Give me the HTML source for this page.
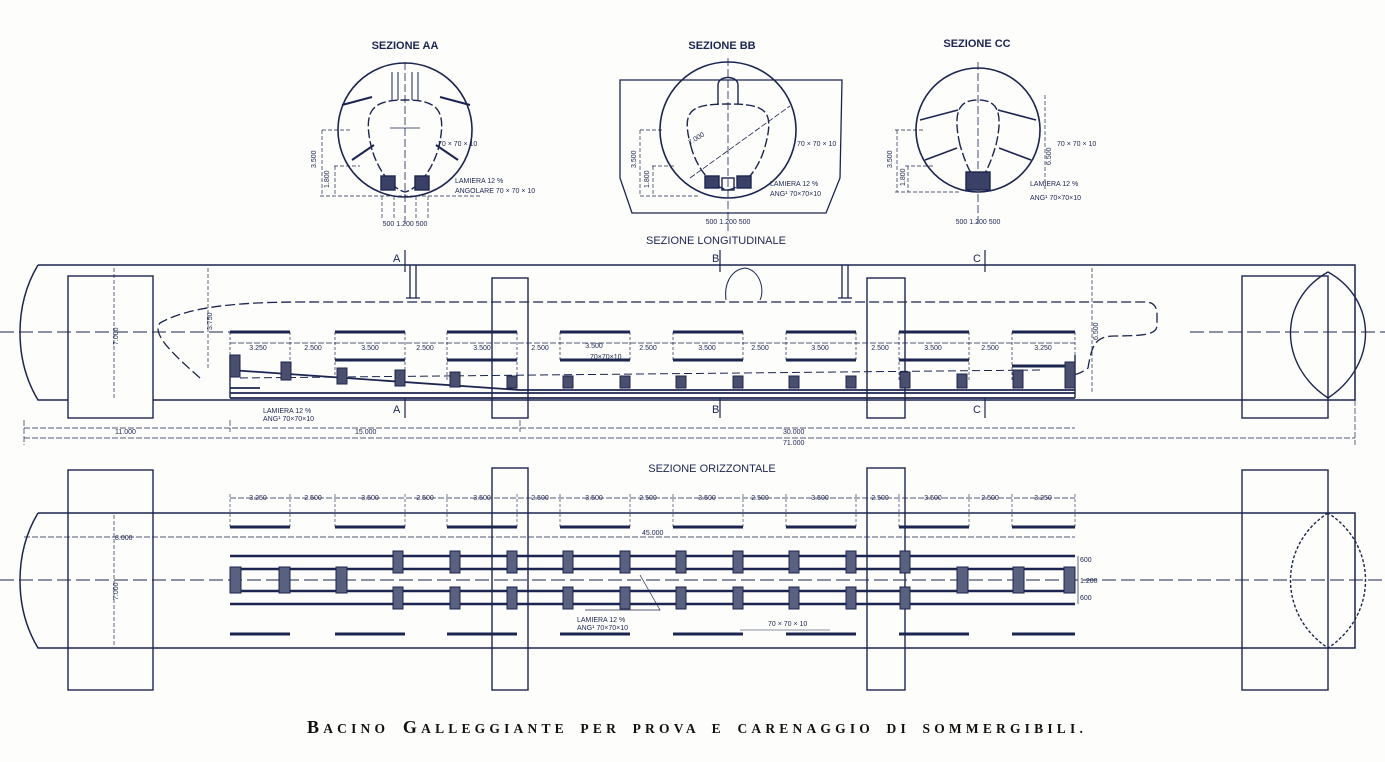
<!DOCTYPE html>
<html><head><meta charset="utf-8"><style>
html,body{margin:0;padding:0;background:#fdfdfb;}
svg{display:block}
text{font-family:"Liberation Sans",sans-serif;fill:#1c2550;font-weight:bold}
.s{font-size:7px;font-weight:normal}
</style></head><body>
<svg width="1385" height="762" viewBox="0 0 1385 762" xmlns="http://www.w3.org/2000/svg">
<g stroke="#1c2550" fill="none" stroke-width="1.4">
<text x="405" y="49" font-size="11" text-anchor="middle" stroke="none">SEZIONE  AA</text>
<text x="722" y="49" font-size="11" text-anchor="middle" stroke="none">SEZIONE  BB</text>
<text x="977" y="47" font-size="11" text-anchor="middle" stroke="none">SEZIONE  CC</text>
<circle cx="405" cy="130" r="67" stroke-width="1.6"/>
<path d="M372 150 C 362 110 372 100 405 100 C 438 100 448 110 438 150 C 430 175 415 190 405 192 C 395 190 380 175 372 150Z" stroke-dasharray="9 3"/>
<path d="M392 72 v28 M398 72 v28 M412 72 v28 M418 72 v28" stroke-width="1"/>
<path d="M342 105 l30 -8 M440 97 l30 8 M352 160 l22 -15 M436 145 l22 15" stroke-width="2"/>
<line x1="405" y1="62" x2="405" y2="225" stroke-dasharray="8 3" stroke-width="0.8"/>
<line x1="390" y1="128" x2="420" y2="128" stroke-width="0.8"/>
<rect x="381" y="176" width="14" height="14" fill="#3b4166"/><rect x="415" y="176" width="14" height="14" fill="#3b4166"/>
<path d="M320 196 H 480 M322 130 H 350 M334 166 H 360 M322 130 V196 M335 166 V196 M382 196 v22 M394 196 v22 M416 196 v22 M428 196 v22" stroke-width="0.7" stroke-dasharray="4 2"/>
<text x="316" y="168" class="s" stroke="none" transform="rotate(-90 316 168)">3.500</text>
<text x="329" y="188" class="s" stroke="none" transform="rotate(-90 329 188)">1.800</text>
<text x="405" y="226" class="s" text-anchor="middle" stroke="none">500 1.200 500</text>
<text x="438" y="146" class="s" stroke="none">70 × 70 × 10</text>
<text x="455" y="183" class="s" stroke="none">LAMIERA  12 %</text>
<text x="455" y="193" class="s" stroke="none">ANGOLARE  70 × 70 × 10</text>
<path d="M620 80 H 842 L 840 178 L 826 213 H 632 L 620 178 Z" stroke-width="1.3"/>
<circle cx="728" cy="130" r="68" stroke-width="1.6"/>
<path d="M692 150 C 680 110 690 104 728 104 C 766 104 776 110 764 150 C 756 175 740 188 728 190 C 716 188 700 175 692 150Z" stroke-dasharray="9 3"/>
<path d="M718 104 V 85 C 718 75 738 75 738 85 V 104"/>
<line x1="728" y1="58" x2="728" y2="232" stroke-dasharray="8 3" stroke-width="0.8"/>
<line x1="690" y1="178" x2="790" y2="106" stroke-width="0.8" stroke-dasharray="6 2"/>
<rect x="705" y="176" width="14" height="12" fill="#3b4166"/><rect x="737" y="176" width="14" height="12" fill="#3b4166"/><rect x="722" y="178" width="12" height="12"/>
<path d="M640 130 H 662 M652 166 H 675 M640 196 H 700 M640 130 V196 M653 166 V196" stroke-width="0.7" stroke-dasharray="4 2"/>
<text x="636" y="168" class="s" stroke="none" transform="rotate(-90 636 168)">3.500</text>
<text x="649" y="188" class="s" stroke="none" transform="rotate(-90 649 188)">1.800</text>
<text x="728" y="224" class="s" text-anchor="middle" stroke="none">500 1.200 500</text>
<text x="690" y="145" class="s" stroke="none" transform="rotate(-32 690 145)">7.000</text>
<text x="797" y="146" class="s" stroke="none">70 × 70 × 10</text>
<text x="770" y="186" class="s" stroke="none">LAMIERA  12 %</text>
<text x="770" y="196" class="s" stroke="none">ANG¹ 70×70×10</text>
<circle cx="978" cy="130" r="62" stroke-width="1.6"/>
<path d="M960 145 C 952 110 960 100 978 100 C 996 100 1004 110 996 145 C 990 165 984 178 978 180 C 972 178 966 165 960 145Z" stroke-dasharray="9 3"/>
<path d="M920 120 l38 -10 M998 110 l38 10 M925 160 l32 -12 M999 148 l32 12" stroke-width="1.6"/>
<line x1="978" y1="62" x2="978" y2="225" stroke-dasharray="8 3" stroke-width="0.8"/>
<rect x="966" y="172" width="24" height="18" fill="#3b4166"/>
<path d="M895 130 H 925 M905 166 H 935 M895 192 H 960 M897 130 V192 M908 166 V192 M1045 95 V 190" stroke-width="0.7" stroke-dasharray="4 2"/>
<text x="892" y="168" class="s" stroke="none" transform="rotate(-90 892 168)">3.500</text>
<text x="905" y="186" class="s" stroke="none" transform="rotate(-90 905 186)">1.800</text>
<text x="1051" y="165" class="s" stroke="none" transform="rotate(-90 1051 165)">6.500</text>
<text x="978" y="224" class="s" text-anchor="middle" stroke="none">500 1.200 500</text>
<text x="1057" y="146" class="s" stroke="none">70 × 70 × 10</text>
<text x="1030" y="186" class="s" stroke="none">LAMIERA  12 %</text>
<text x="1030" y="200" class="s" stroke="none">ANG¹ 70×70×10</text>

<text x="716" y="244" font-size="11" text-anchor="middle" stroke="none" style="font-weight:normal">SEZIONE  LONGITUDINALE</text>
<path d="M38 265 H 1355 V 400 H 38 C 14 360 14 305 38 265" stroke-width="1.5"/>
<rect x="68" y="276" width="85" height="142" fill="#fdfdfb"/>
<rect x="1242" y="276" width="86" height="142"/>
<path d="M1328 272 C 1278 300 1278 365 1328 398 C 1378 365 1378 300 1328 272Z"/>
<rect x="492" y="278" width="36" height="140"/>
<rect x="867" y="278" width="38" height="140"/>
<line x1="0" y1="332" x2="268" y2="332" stroke-dasharray="14 5" stroke-width="1"/>
<line x1="1190" y1="332" x2="1385" y2="332" stroke-dasharray="14 5" stroke-width="1"/>
<path d="M114 268 V398" stroke-width="0.7" stroke-dasharray="4 2"/>
<text x="118" y="345" class="s" stroke="none" transform="rotate(-90 118 345)">7.000</text>
<path d="M200 378 C 180 360 150 335 160 323 C 200 300 280 302 340 302 H 1145 C 1155 302 1157 308 1157 315 V 325 C 1157 333 1150 336 1115 336 C 1095 336 1092 345 1088 368 C 1080 374 1075 375 1070 375" stroke-dasharray="10 4" stroke-width="1.3"/>
<path d="M208 268 V 370" stroke-width="0.7" stroke-dasharray="4 2"/>
<text x="212" y="330" class="s" stroke="none" transform="rotate(-90 212 330)">3.750</text>
<path d="M1092 268 V 393" stroke-width="0.7" stroke-dasharray="4 2"/>
<text x="1098" y="340" class="s" stroke="none" transform="rotate(-90 1098 340)">6.500</text>
<path d="M230 393 H 1075 M230 398 H 1075 M230 370 L 520 390 H 1075 M230 388 H 260" stroke-width="1.8"/>
<path d="M230 355 V398 M1075 355 V398"/>
<path d="M240 378 L 1040 370" stroke-dasharray="8 4" stroke-width="1"/>
<g stroke-width="3">
<path d="M230 332 H 290 M335 332 H 405 M447 332 H 517 M560 332 H 630 M673 332 H 743 M786 332 H 856 M899 332 H 969 M1012 332 H 1075"/>
<path d="M335 360 H 405 M447 360 H 517 M560 360 H 630 M673 360 H 743 M786 360 H 856 M899 360 H 969 M1012 366 H 1075"/>
</g>
<path d="M230 332 V370 M290 332 V370 M335 332 V378 M405 332 V378 M447 332 V380 M517 332 V380 M560 332 V360 M630 332 V360 M673 332 V360 M743 332 V360 M786 332 V360 M856 332 V360 M899 332 V380 M969 332 V380 M1012 332 V380 M1075 332 V380" stroke-width="0.7" stroke-dasharray="3 2"/>
<line x1="230" y1="343" x2="1075" y2="343" stroke-width="0.7" stroke-dasharray="6 2"/>
<g fill="#4b4f6e" stroke-width="1">
<rect x="230" y="355" width="10" height="22"/><rect x="281" y="362" width="10" height="18"/><rect x="337" y="368" width="10" height="16"/><rect x="395" y="370" width="10" height="16"/><rect x="450" y="372" width="10" height="15"/><rect x="507" y="376" width="10" height="12"/><rect x="563" y="376" width="10" height="12"/><rect x="620" y="376" width="10" height="12"/><rect x="676" y="376" width="10" height="12"/><rect x="733" y="376" width="10" height="12"/><rect x="789" y="376" width="10" height="12"/><rect x="846" y="376" width="10" height="12"/><rect x="900" y="372" width="10" height="16"/><rect x="957" y="374" width="10" height="14"/><rect x="1013" y="370" width="10" height="18"/><rect x="1065" y="362" width="10" height="26"/>
</g>
<g stroke="none">
<text x="258" y="350" class="s" text-anchor="middle">3.250</text><text x="313" y="350" class="s" text-anchor="middle">2.500</text><text x="370" y="350" class="s" text-anchor="middle">3.500</text><text x="425" y="350" class="s" text-anchor="middle">2.500</text><text x="482" y="350" class="s" text-anchor="middle">3.500</text><text x="540" y="350" class="s" text-anchor="middle">2.500</text><text x="594" y="348" class="s" text-anchor="middle">3.500</text><text x="648" y="350" class="s" text-anchor="middle">2.500</text><text x="707" y="350" class="s" text-anchor="middle">3.500</text><text x="760" y="350" class="s" text-anchor="middle">2.500</text><text x="820" y="350" class="s" text-anchor="middle">3.500</text><text x="880" y="350" class="s" text-anchor="middle">2.500</text><text x="933" y="350" class="s" text-anchor="middle">3.500</text><text x="990" y="350" class="s" text-anchor="middle">2.500</text><text x="1043" y="350" class="s" text-anchor="middle">3.250</text>
<text x="590" y="359" class="s">70×70×10</text>
</g>
<path d="M410 265 V298 M416 265 V298 M406 298 H420 M842 265 V298 M848 265 V298 M838 298 H852" stroke-width="1.3"/>
<path d="M726 300 C 724 285 730 270 745 268 C 760 270 765 290 760 300" stroke-width="1"/>
<path d="M405 250 V272 M405 398 V418 M720 250 V272 M720 398 V418 M985 250 V272 M985 398 V418" stroke-width="1.2"/>
<text x="393" y="262" font-size="11" stroke="none" style="font-weight:normal">A</text>
<text x="393" y="413" font-size="11" stroke="none" style="font-weight:normal">A</text>
<text x="712" y="262" font-size="11" stroke="none" style="font-weight:normal">B</text>
<text x="712" y="413" font-size="11" stroke="none" style="font-weight:normal">B</text>
<text x="973" y="262" font-size="11" stroke="none" style="font-weight:normal">C</text>
<text x="973" y="413" font-size="11" stroke="none" style="font-weight:normal">C</text>
<text x="263" y="413" class="s" stroke="none">LAMIERA  12 %</text>
<text x="263" y="421" class="s" stroke="none">ANG¹ 70×70×10</text>
<path d="M24 428 H 1075 M24 438 H 1355 M24 420 V 445 M230 420 V 432 M520 420 V 432 M1355 400 V 445" stroke-width="0.7" stroke-dasharray="6 2"/>
<text x="115" y="434" class="s" stroke="none">11.000</text>
<text x="355" y="434" class="s" stroke="none">15.000</text>
<text x="783" y="434" class="s" stroke="none">30.000</text>
<text x="783" y="445" class="s" stroke="none">71.000</text>

<text x="712" y="472" font-size="11" text-anchor="middle" stroke="none" style="font-weight:normal">SEZIONE  ORIZZONTALE</text>
<path d="M38 513 H 1355 V 648 H 38 C 14 608 14 553 38 513" stroke-width="1.5"/>
<rect x="68" y="470" width="85" height="220"/>
<rect x="492" y="468" width="36" height="222"/>
<rect x="867" y="468" width="38" height="222"/>
<rect x="1242" y="470" width="86" height="220"/>
<path d="M1328 513 C 1278 545 1278 615 1328 648 C 1378 615 1378 545 1328 513Z" stroke-dasharray="3 2"/>
<line x1="0" y1="580" x2="1385" y2="580" stroke-dasharray="14 5" stroke-width="1"/>
<path d="M114 515 V646" stroke-width="0.7" stroke-dasharray="4 2"/>
<text x="118" y="600" class="s" stroke="none" transform="rotate(-90 118 600)">7.000</text>
<path d="M24 537 H 1075" stroke-width="0.7" stroke-dasharray="6 2"/>
<text x="115" y="540" class="s" stroke="none">8.000</text>
<text x="642" y="535" class="s" stroke="none">45.000</text>
<line x1="230" y1="498" x2="1075" y2="498" stroke-width="0.7" stroke-dasharray="6 2"/>
<g stroke="none">
<text x="258" y="500" class="s" text-anchor="middle">3.250</text><text x="313" y="500" class="s" text-anchor="middle">2.500</text><text x="370" y="500" class="s" text-anchor="middle">3.500</text><text x="425" y="500" class="s" text-anchor="middle">2.500</text><text x="482" y="500" class="s" text-anchor="middle">3.500</text><text x="540" y="500" class="s" text-anchor="middle">2.500</text><text x="594" y="500" class="s" text-anchor="middle">3.500</text><text x="648" y="500" class="s" text-anchor="middle">2.500</text><text x="707" y="500" class="s" text-anchor="middle">3.500</text><text x="760" y="500" class="s" text-anchor="middle">2.500</text><text x="820" y="500" class="s" text-anchor="middle">3.500</text><text x="880" y="500" class="s" text-anchor="middle">2.500</text><text x="933" y="500" class="s" text-anchor="middle">3.500</text><text x="990" y="500" class="s" text-anchor="middle">2.500</text><text x="1043" y="500" class="s" text-anchor="middle">3.250</text>
</g>
<path d="M230 494 V527 M290 494 V527 M335 494 V527 M405 494 V527 M447 494 V527 M517 494 V527 M560 494 V527 M630 494 V527 M673 494 V527 M743 494 V527 M786 494 V527 M856 494 V527 M899 494 V527 M969 494 V527 M1012 494 V527 M1075 494 V527" stroke-width="0.6" stroke-dasharray="3 2"/>
<g stroke-width="3">
<path d="M230 527 H 290 M335 527 H 405 M447 527 H 517 M560 527 H 630 M673 527 H 743 M786 527 H 856 M899 527 H 969 M1012 527 H 1075"/>
<path d="M230 634 H 290 M335 634 H 405 M447 634 H 517 M560 634 H 630 M673 634 H 743 M786 634 H 856 M899 634 H 969 M1012 634 H 1075"/>
<path d="M230 556 H 1075 M230 604 H 1075 M230 569 H 1075 M230 591 H 1075" stroke-width="2.4"/>
</g>
<g fill="#5a6080" stroke-width="1">
<rect x="393" y="551" width="10" height="22"/><rect x="450" y="551" width="10" height="22"/><rect x="507" y="551" width="10" height="22"/><rect x="563" y="551" width="10" height="22"/><rect x="620" y="551" width="10" height="22"/><rect x="676" y="551" width="10" height="22"/><rect x="733" y="551" width="10" height="22"/><rect x="789" y="551" width="10" height="22"/><rect x="846" y="551" width="10" height="22"/><rect x="900" y="551" width="10" height="22"/>
<rect x="393" y="587" width="10" height="22"/><rect x="450" y="587" width="10" height="22"/><rect x="507" y="587" width="10" height="22"/><rect x="563" y="587" width="10" height="22"/><rect x="620" y="587" width="10" height="22"/><rect x="676" y="587" width="10" height="22"/><rect x="733" y="587" width="10" height="22"/><rect x="789" y="587" width="10" height="22"/><rect x="846" y="587" width="10" height="22"/><rect x="900" y="587" width="10" height="22"/>
<rect x="230" y="567" width="11" height="26"/><rect x="279" y="567" width="11" height="26"/><rect x="336" y="567" width="11" height="26"/><rect x="957" y="567" width="11" height="26"/><rect x="1013" y="567" width="11" height="26"/><rect x="1064" y="567" width="11" height="26"/>
</g>
<path d="M1078 556 V604" stroke-width="0.7"/>
<text x="1080" y="562" class="s" stroke="none">600</text>
<text x="1080" y="583" class="s" stroke="none">1.200</text>
<text x="1080" y="600" class="s" stroke="none">600</text>
<path d="M585 610 H 660 L 640 575" stroke-width="0.7"/>
<text x="577" y="622" class="s" stroke="none">LAMIERA  12 %</text>
<text x="577" y="630" class="s" stroke="none">ANG¹ 70×70×10</text>
<text x="768" y="626" class="s" stroke="none">70 × 70 × 10</text>
<path d="M740 630 H 830" stroke-width="0.6"/>
</g>
<text x="697" y="733" text-anchor="middle" style="font-family:'Liberation Serif',serif;font-size:18px;font-weight:bold;letter-spacing:4.2px;word-spacing:5px;fill:#111">B<tspan font-size="13.5">ACINO</tspan> G<tspan font-size="13.5">ALLEGGIANTE PER PROVA E CARENAGGIO DI SOMMERGIBILI.</tspan></text>
</svg>
</body></html>
